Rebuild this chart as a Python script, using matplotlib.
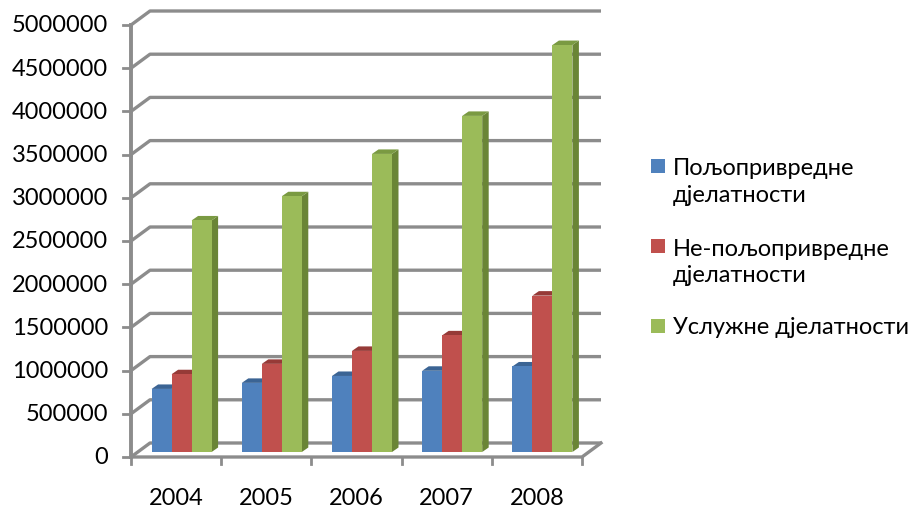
import matplotlib.pyplot as plt
from matplotlib.patches import Polygon, Rectangle

plt.rcParams['font.family'] = ['Lato', 'DejaVu Sans']

# годишњи подаци по дјелатностима
years = ['2004', '2005', '2006', '2007', '2008']
series_names = ['Пољопривредне\nдјелатности', 'Не-пољопривредне\nдјелатности', 'Услужне дјелатности']
poljo = [730000, 800000, 880000, 940000, 990000]
nepoljo = [900000, 1020000, 1170000, 1350000, 1810000]
usluzne = [2680000, 2960000, 3450000, 3890000, 4710000]
yticks = [0, 500000, 1000000, 1500000, 2000000, 2500000, 3000000, 3500000, 4000000, 4500000, 5000000]

values = [poljo, nepoljo, usluzne]
face = ['#4F81BD', '#C0504D', '#9BBB59']
top = ['#3B6494', '#963A37', '#7A9A42']
side = ['#375D8A', '#8A3432', '#6A8536']

W, H = 914, 510
fig = plt.figure(figsize=(W / 100, H / 100), dpi=100)
ax = fig.add_axes([131 / W, (H - 458) / H, 451 / W, 432 / H])
ax.set_xlim(0, len(years))
ax.set_ylim(0, 5000000)
ax.axis('off')

# pixel -> data units
ux = len(years) / 451
uy = 5000000 / 432

grid_c = '#8C8C8C'
wdx, wdy = 19 * ux, 14 * uy     # back wall depth
pdx, pdy = 5.5 * ux, 5 * uy     # bar plane depth
bdx, bdy = 6.5 * ux, 4.5 * uy   # bar thickness

# back wall gridlines with the side wall diagonals
for t in yticks:
    ax.plot([0, wdx, len(years) + wdx], [t, t + wdy, t + wdy], color=grid_c, lw=2.4,
            solid_capstyle='butt', clip_on=False, zorder=1)
    ax.plot([-8 * ux, 0], [t, t], color=grid_c, lw=2, clip_on=False, zorder=1)
    ax.text(-23 * ux, t, str(t), ha='right', va='center', fontsize=17, color='#000000')

# floor and front axes
ax.plot([0, len(years), len(years) + wdx], [0, 0, wdy], color=grid_c, lw=2.4, clip_on=False, zorder=1)
ax.plot([0, 0], [0, 5000000], color=grid_c, lw=2.8, clip_on=False, zorder=4)
for i in range(len(years) + 1):
    ax.plot([i, i], [0, -7 * uy], color=grid_c, lw=2, clip_on=False, zorder=1)
for i, y in enumerate(years):
    ax.text(i + 0.5, -41 * uy, y, ha='center', va='center', fontsize=17)

# 3D-look bars
w = 20 * ux
for i in range(len(years)):
    for s in range(3):
        v = values[s][i]
        x0 = i + 0.5 - 1.5 * w + s * w + pdx
        y0 = pdy
        ax.add_patch(Polygon([(x0 + w, y0), (x0 + w + bdx, y0 + bdy), (x0 + w + bdx, y0 + v + bdy), (x0 + w, y0 + v)],
                             closed=True, fc=side[s], ec='none', zorder=3, clip_on=False))
        ax.add_patch(Polygon([(x0, y0 + v), (x0 + w, y0 + v), (x0 + w + bdx, y0 + v + bdy), (x0 + bdx, y0 + v + bdy)],
                             closed=True, fc=top[s], ec='none', zorder=3, clip_on=False))
        ax.add_patch(Rectangle((x0, y0), w, v, fc=face[s], ec='none', zorder=3, clip_on=False))

# legend
leg_y = [166.5, 247, 327]
txt_y = [182.4, 262.5, 327]
for s in range(3):
    fig.add_artist(Rectangle((651 / W, 1 - (leg_y[s] + 7) / H), 14 / W, 14 / H,
                             transform=fig.transFigure, fc=face[s], ec='none'))
    fig.text(673 / W, 1 - txt_y[s] / H, series_names[s], ha='left', va='center',
             fontsize=17, linespacing=1.35)

fig.savefig('out.png', dpi=100)
